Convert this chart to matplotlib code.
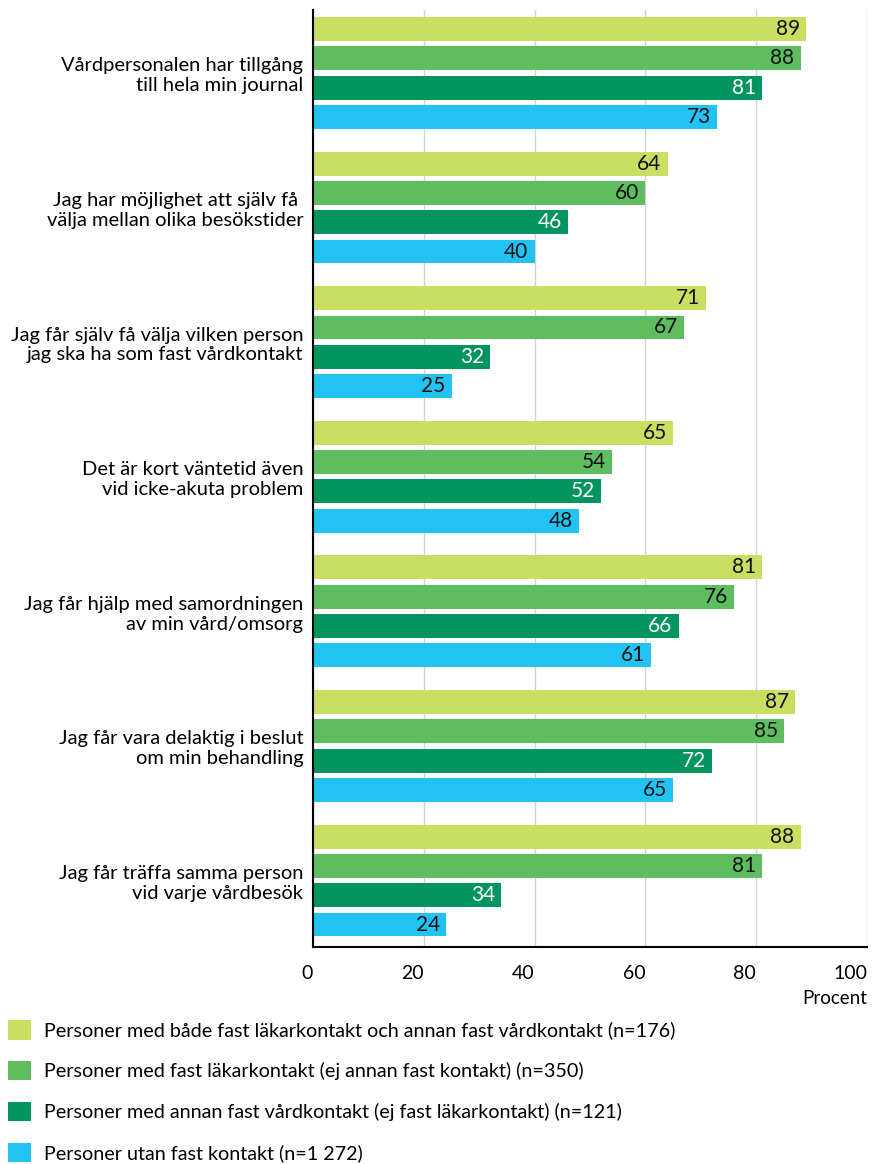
import numpy as np
import matplotlib.pyplot as plt

plt.rcParams['font.family'] = ['Lato', 'DejaVu Sans']

# --- Data ---
categories = [
    "Vårdpersonalen har tillgång\ntill hela min journal",
    "Jag har möjlighet att själv få \nvälja mellan olika besökstider",
    "Jag får själv få välja vilken person\njag ska ha som fast vårdkontakt",
    "Det är kort väntetid även\nvid icke-akuta problem",
    "Jag får hjälp med samordningen\nav min vård/omsorg",
    "Jag får vara delaktig i beslut\nom min behandling",
    "Jag får träffa samma person\nvid varje vårdbesök",
]
series_names = [
    "Personer med både fast läkarkontakt och annan fast vårdkontakt (n=176)",
    "Personer med fast läkarkontakt (ej annan fast kontakt) (n=350)",
    "Personer med annan fast vårdkontakt (ej fast läkarkontakt) (n=121)",
    "Personer utan fast kontakt (n=1 272)",
]
both_contacts = [89, 64, 71, 65, 81, 87, 88]
doctor_only = [88, 60, 67, 54, 76, 85, 81]
other_only = [81, 46, 32, 52, 66, 72, 34]
no_contact = [73, 40, 25, 48, 61, 65, 24]
xticks = [0, 20, 40, 60, 80, 100]

series = [both_contacts, doctor_only, other_only, no_contact]
colors = ['#C9DF62', '#5EBD5F', '#00945F', '#22C3F2']
text_colors = ['#111111', '#111111', 'white', '#111111']

fig = plt.figure(figsize=(8.75, 11.64), dpi=100)
ax = fig.add_axes([313 / 875, 1 - 947 / 1164, 554 / 875, 937 / 1164])

y = np.arange(len(categories))
pitch = 0.2177
height = 0.178
offsets = (np.arange(4) - 1.5) * pitch

handles = []
for vals, off, col, tcol, name in zip(series, offsets, colors, text_colors, series_names):
    bars = ax.barh(y + off, vals, height=height, color=col, label=name, zorder=2)
    handles.append(bars)
    for v, yy in zip(vals, y + off):
        ax.text(v - 1.1, yy, str(v), ha='right', va='center', color=tcol,
                fontsize=15, zorder=3)

ax.set_xlim(0, 100)
ax.set_ylim(6.4937, -0.4677)
ax.set_yticks(y)
ax.set_yticklabels(categories, fontsize=14.5, ha='right')
ax.set_xticks(xticks)
ax.set_xticklabels([str(t) for t in xticks], fontsize=14)
for lbl in ax.get_xticklabels():
    lbl.set_ha('right')
ax.tick_params(axis='both', length=0)
ax.tick_params(axis='x', pad=13)
ax.tick_params(axis='y', pad=7)

ax.grid(axis='x', color='#d3d3d3', linewidth=1, zorder=0)
ax.grid(axis='y', visible=False)
for s in ['top', 'right']:
    ax.spines[s].set_visible(False)
ax.spines['left'].set_linewidth(1.5)
ax.spines['bottom'].set_linewidth(1.5)

ax.set_xlabel("Procent", fontsize=13.5, loc='right', labelpad=6)

fig.legend(handles=handles, labels=series_names, loc='upper left',
           bbox_to_anchor=(8 / 875, 1 - 1020 / 1164), frameon=False,
           fontsize=14.2, handlelength=1.15, handleheight=1.15,
           handletextpad=0.7, labelspacing=1.08, borderaxespad=0, borderpad=0)

fig.savefig('out.png', dpi=100)
